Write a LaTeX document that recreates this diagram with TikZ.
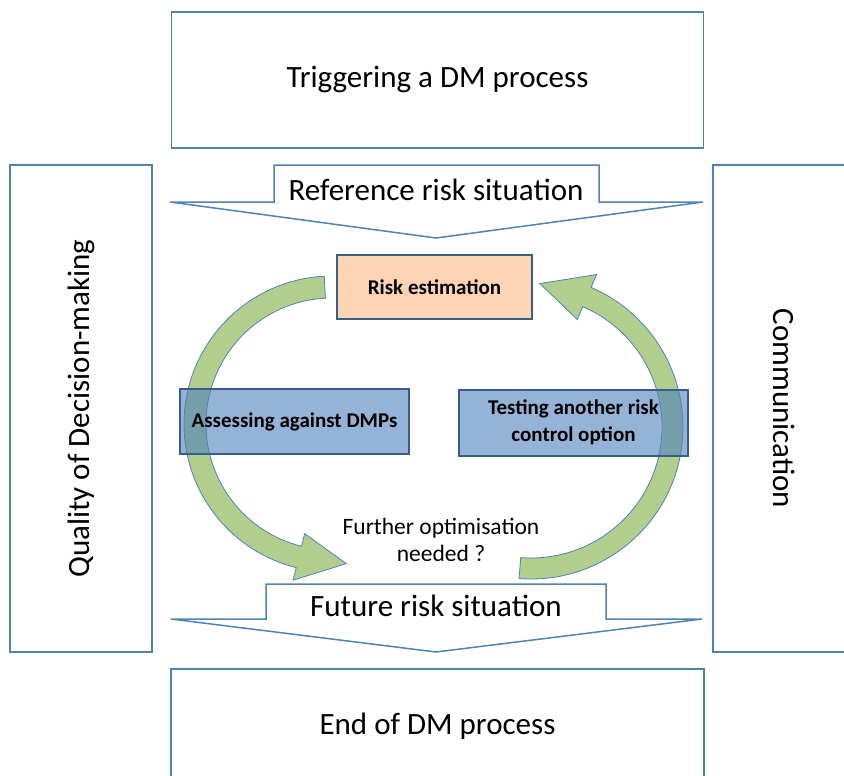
\documentclass[tikz,border=0pt]{standalone}
\usepackage{fontspec}
\setmainfont{Carlito}
\usetikzlibrary{calc}
\definecolor{frameblue}{RGB}{79,129,189}
\definecolor{edgeblue}{RGB}{56,93,138}
\definecolor{riskorange}{RGB}{251,212,180}
\definecolor{loopgreen}{RGB}{176,207,140}
\begin{document}
\begin{tikzpicture}[x=1pt,y=-1pt,
    frame/.style={draw=frameblue,line width=1.5pt,fill=white,inner sep=0pt,
      font=\fontsize{31}{36}\selectfont},
    banner/.style={draw=frameblue,line width=1.5pt,fill=white},
    bannertext/.style={font=\fontsize{31}{36}\selectfont},
    looparrow/.style={draw=frameblue,line width=0.8pt,fill=loopgreen},
    stage/.style={draw=edgeblue,line width=2pt,inner sep=0pt,align=center,
      font=\bfseries\fontsize{21}{27}\selectfont},
    bluestage/.style={stage,fill=frameblue,fill opacity=0.6,text opacity=1}]
  \useasboundingbox (0,0) rectangle (844,776);

  \node[frame,minimum width=532pt,minimum height=136pt] (trigger) at (437.5,80) {Triggering a DM process};
  \node[frame,minimum width=487pt,minimum height=142pt,rotate=90] (quality) at (81,408.5) {Quality of Decision-making};
  \node[frame,minimum width=487pt,minimum height=142pt,rotate=-90] (comm) at (784,408.5) {Communication};
  \node[frame,minimum width=533pt,minimum height=114pt] (enddm) at (437.5,726) {End of DM process};

  \draw[banner] (274,165) -- (599,165) -- (599,202) -- (703,202) -- (436,238)
    -- (170,202) -- (274,202) -- cycle;
  \node[bannertext] (refsit) at (436,190) {Reference risk situation};
  \draw[banner] (266,584) -- (606,584) -- (606,619) -- (702,619) -- (436,652)
    -- (171,619) -- (266,619) -- cycle;
  \node[bannertext] (futsit) at (436,606) {Future risk situation};

  \coordinate (lc) at (332,424);
  \coordinate (rc) at (531,427);
  \draw[looparrow] ($(lc)+(267:148)$) arc[start angle=267,end angle=104,radius=148]
    -- ($(lc)+(104:161)$) -- ($(lc)+(104:137)+(8:48)$) -- ($(lc)+(104:113)$)
    -- ($(lc)+(104:126)$) arc[start angle=104,end angle=267,radius=126] -- cycle;
  \draw[looparrow] ($(rc)+(94.5:152)$) arc[start angle=94.5,end angle=-66.7,radius=152]
    -- ($(rc)+(-66.7:166)$) -- ($(rc)+(-66.7:141.5)+(196:49)$) -- ($(rc)+(-66.7:117)$)
    -- ($(rc)+(-66.7:131)$) arc[start angle=-66.7,end angle=94.5,radius=131] -- cycle;

  \node[stage,fill=riskorange,minimum width=195pt,minimum height=64pt] (risk) at (434.5,287) {Risk estimation};
  \node[bluestage,minimum width=229pt,minimum height=65pt] (assess) at (294.5,421.5) {Assessing against DMPs};
  \node[bluestage,minimum width=229pt,minimum height=66pt] (testing) at (573.5,422.5) {Testing another risk\\control option};
  \node[align=center,font=\fontsize{23.5}{27}\selectfont] (further) at (441,540) {Further optimisation\\needed ?};
\end{tikzpicture}
\end{document}
